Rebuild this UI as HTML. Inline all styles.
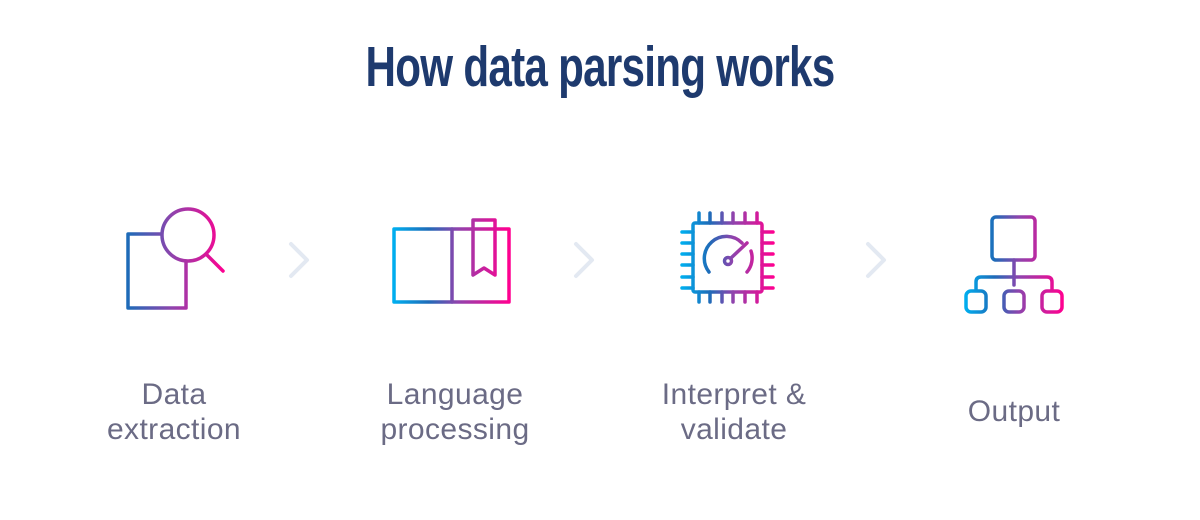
<!DOCTYPE html>
<html><head><meta charset="utf-8"><style>
body{margin:0;background:#fff;width:1200px;height:520px;overflow:hidden;position:relative;font-family:"Liberation Sans",sans-serif}
.t{position:absolute;left:0;width:1200px;top:34px;text-align:center;font-family:"Liberation Sans",sans-serif;font-weight:bold;font-size:57px;color:#1e3a6e;letter-spacing:-1px;transform:scaleX(0.74);transform-origin:600px 0}
.l{position:absolute;text-align:center;color:#6b6b85;font-size:30px;line-height:35px;width:260px;letter-spacing:0.4px}
</style></head><body>
<div class="t">How data parsing works</div>
<svg width="1200" height="520" style="position:absolute;left:0;top:0" fill="none" stroke-width="3.5" stroke-linecap="round" stroke-linejoin="round">
<defs>
<linearGradient id="g1" gradientUnits="userSpaceOnUse" x1="128" y1="0" x2="225" y2="0"><stop offset="0" stop-color="#1e6bb8"/><stop offset=".45" stop-color="#8e44ad"/><stop offset="1" stop-color="#ff0090"/></linearGradient>
<linearGradient id="g2" gradientUnits="userSpaceOnUse" x1="394" y1="0" x2="509" y2="0"><stop offset="0" stop-color="#00aeef"/><stop offset=".3" stop-color="#1e6bb8"/><stop offset=".55" stop-color="#8e44ad"/><stop offset="1" stop-color="#ff0090"/></linearGradient>
<linearGradient id="g3" gradientUnits="userSpaceOnUse" x1="682" y1="0" x2="774" y2="0"><stop offset="0" stop-color="#00aeef"/><stop offset=".3" stop-color="#1e6bb8"/><stop offset=".55" stop-color="#8e44ad"/><stop offset="1" stop-color="#ff0090"/></linearGradient>
<linearGradient id="g4" gradientUnits="userSpaceOnUse" x1="965" y1="0" x2="1063" y2="0"><stop offset="0" stop-color="#00aeef"/><stop offset=".3" stop-color="#1e6bb8"/><stop offset=".55" stop-color="#8e44ad"/><stop offset="1" stop-color="#ff0090"/></linearGradient>
</defs>
<g stroke="url(#g1)" stroke-linecap="butt">
<path d="M162 234 H128 V308 H186 V262"/>
<circle cx="188" cy="235" r="26"/>
<path d="M207 255 L223 271" stroke-linecap="round"/>
</g>
<g stroke="url(#g2)">
<rect x="394" y="229" width="115" height="73"/>
<path d="M452 229 V302"/>
<path d="M473 275 V220 H495 V275 L484 268 Z"/>
</g>
<g stroke="url(#g3)">
<rect x="693" y="223" width="69" height="69" rx="2"/>
<path d="M699 213v10M710 213v10M722 213v10M733 213v10M745 213v10M757 213v10M699 292v10M710 292v10M722 292v10M733 292v10M745 292v10M757 292v10M682 232h11M682 243h11M682 254h11M682 265h11M682 277h11M682 288h11M762 232h11M762 243h11M762 254h11M762 265h11M762 277h11M762 288h11"/>
<path d="M709 272 A22 22 0 0 1 742 243"/>
<path d="M751 251 A22 22 0 0 1 747 272"/>
<circle cx="728" cy="261" r="3.5"/>
<path d="M731 258 L747 243"/>
</g>
<g stroke="url(#g4)">
<rect x="992" y="217" width="43" height="43" rx="4"/>
<path d="M1014 260 V285"/>
<path d="M976 290 V282 Q976 277 981 277 H1047 Q1052 277 1052 282 V290"/>
<rect x="966" y="291" width="20" height="21" rx="5"/>
<rect x="1004" y="291" width="20" height="21" rx="5"/>
<rect x="1042" y="291" width="20" height="21" rx="5"/>
</g>
<g stroke="#e3e9f2" stroke-width="4">
<path d="M291 244 L307 260 L291 276"/>
<path d="M576 244 L592 260 L576 276"/>
<path d="M868 244 L884 260 L868 276"/>
</g>
</svg>
<div class="l" style="left:44px;top:377px">Data<br>extraction</div>
<div class="l" style="left:325px;top:377px">Language<br>processing</div>
<div class="l" style="left:604px;top:377px">Interpret &amp;<br>validate</div>
<div class="l" style="left:884px;top:394px">Output</div>
</body></html>
